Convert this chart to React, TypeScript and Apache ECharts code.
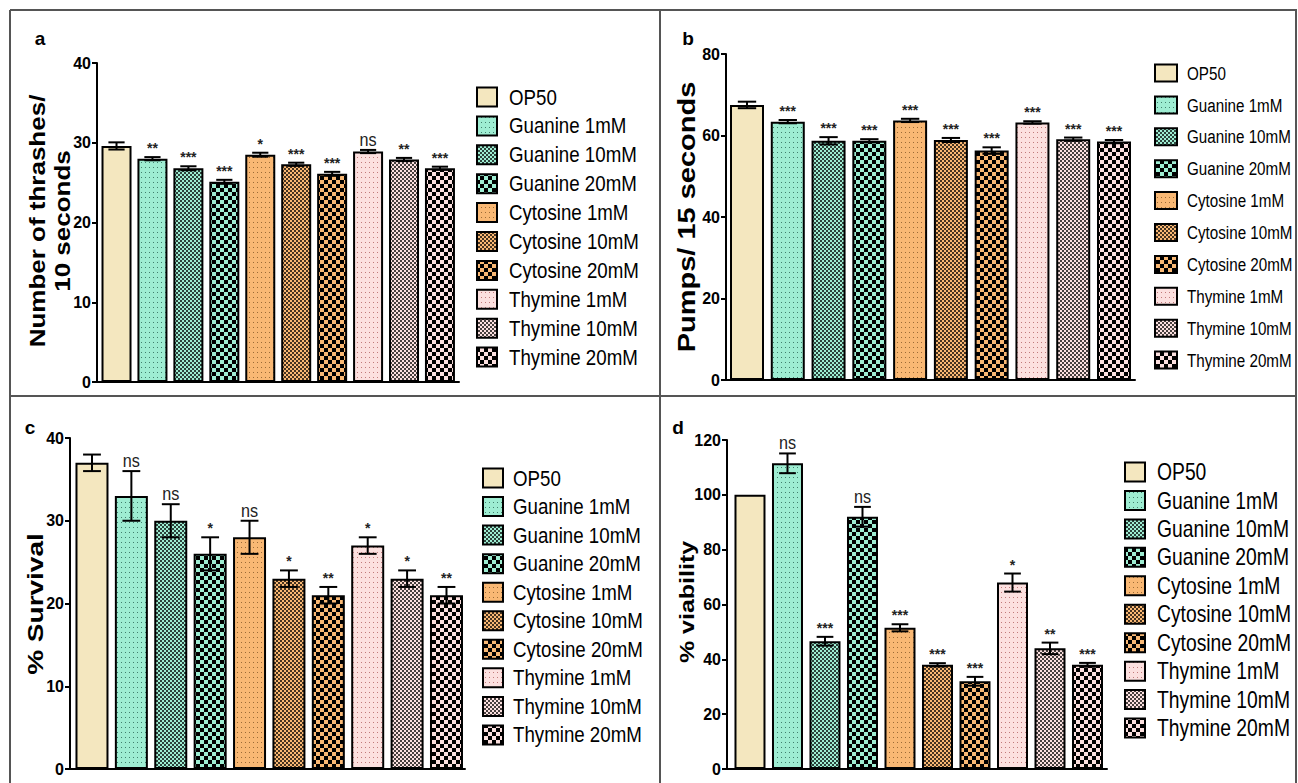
import React, { useEffect, useRef } from 'react';
import * as echarts from 'echarts';

// ---------- data ----------
const categories = [
  'OP50', 'Guanine 1mM', 'Guanine 10mM', 'Guanine 20mM',
  'Cytosine 1mM', 'Cytosine 10mM', 'Cytosine 20mM',
  'Thymine 1mM', 'Thymine 10mM', 'Thymine 20mM',
];

// a: thrashes / 10 s
const thrashesMean = [29.6, 28.0, 26.8, 25.1, 28.5, 27.3, 26.1, 28.9, 27.9, 26.8];
const thrashesErr = [0.45, 0.2, 0.25, 0.25, 0.25, 0.2, 0.25, 0.2, 0.2, 0.2];
const thrashesSig = ['', '**', '***', '***', '*', '***', '***', 'ns', '**', '***'];
const thrashesTicks = [0, 10, 20, 30, 40];

// b: pumps / 15 s
const pumpsMean = [67.5, 63.4, 58.7, 58.7, 63.7, 58.9, 56.3, 63.2, 59.1, 58.5];
const pumpsErr = [0.8, 0.4, 0.9, 0.4, 0.4, 0.5, 0.8, 0.3, 0.4, 0.4];
const pumpsSig = ['', '***', '***', '***', '***', '***', '***', '***', '***', '***'];
const pumpsTicks = [0, 20, 40, 60, 80];

// c: % survival
const survivalMean = [37, 33, 30, 26, 28, 23, 21, 27, 23, 21];
const survivalErr = [1, 3, 2, 2, 2, 1, 1, 1, 1, 1];
const survivalSig = ['', 'ns', 'ns', '*', 'ns', '*', '**', '*', '*', '**'];
const survivalTicks = [0, 10, 20, 30, 40];

// d: % viability
const viabilityMean = [100, 111.5, 46.6, 92, 51.5, 38, 32, 68, 44, 38];
const viabilityErr = [0, 3.6, 1.6, 3.6, 1.3, 0.6, 1.6, 3.3, 2.1, 0.7];
const viabilitySig = ['', 'ns', '***', 'ns', '***', '***', '***', '*', '**', '***'];
const viabilityTicks = [0, 20, 40, 60, 80, 100, 120];

// ---------- styles ----------
const fillBase = ['#F4E7BF', '#9EEDD2', '#9EEDD2', '#9EEDD2', '#F9B874', '#F9B874', '#F9B874', '#FCE0DF', '#FCE0DF', '#FCE0DF'];
const fillDot = ['', '#3f7f6c', '', '', '#9a6a35', '', '', '#c07a7a', '', ''];
const fillKind = ['solid', 'sparse', 'dense', 'checker', 'sparse', 'dense', 'checker', 'sparse', 'dense', 'checker'];

const SANS = '"Liberation Sans", Arial, sans-serif';

function makeFill(kind: string, base: string, dot: string): any {
  if (kind === 'solid') return base;
  const c = document.createElement('canvas');
  let w = 8, h = 8;
  if (kind === 'sparse') { w = 4; h = 5; }
  else if (kind === 'dense') { w = 4; h = 4; }
  c.width = w; c.height = h;
  const ctx = c.getContext('2d')!;
  ctx.fillStyle = base; ctx.fillRect(0, 0, w, h);
  if (kind === 'sparse') {
    ctx.fillStyle = dot; ctx.fillRect(1, 2, 1, 1);
  } else if (kind === 'dense') {
    ctx.fillStyle = 'rgba(0,0,0,0.72)';
    ctx.fillRect(0, 0, 2, 2); ctx.fillRect(2, 2, 2, 2);
  } else {
    ctx.fillStyle = '#000';
    ctx.fillRect(0, 0, 4, 4); ctx.fillRect(4, 4, 4, 4);
  }
  return { image: c.toDataURL(), repeat: 'repeat', imageWidth: w, imageHeight: h };
}

const panels = [
  {
    mean: thrashesMean, err: thrashesErr, sig: thrashesSig, ticks: thrashesTicks,
    grid: { left: 97, top: 63, width: 362, height: 319 }, xMin: -0.543, xMax: 9.53, barWidth: 30,
    title: 'Number of thrashes/\n10 seconds', titleX: 50, titleY: 221, titleSize: 26,
    letter: 'a', letterX: 40, letterY: 38,
    legend: { boxX: 477, boxW: 20, boxH: 19, textX: 509, y0: 97, dy: 28.9, font: 22, sx: 0.85 },
  },
  {
    mean: pumpsMean, err: pumpsErr, sig: pumpsSig, ticks: pumpsTicks,
    grid: { left: 726, top: 54, width: 409, height: 326 }, xMin: -0.515, xMax: 9.515, barWidth: 34,
    title: 'Pumps/ 15 seconds', titleX: 687, titleY: 217, titleSize: 29,
    letter: 'b', letterX: 688, letterY: 38,
    legend: { boxX: 1155, boxW: 22, boxH: 17, textX: 1187, y0: 73, dy: 31.9, font: 19, sx: 0.8 },
  },
  {
    mean: survivalMean, err: survivalErr, sig: survivalSig, ticks: survivalTicks,
    grid: { left: 70, top: 438, width: 395, height: 331 }, xMin: -0.558, xMax: 9.47, barWidth: 33,
    title: '% Survival', titleX: 35, titleY: 604, titleSize: 28,
    letter: 'c', letterX: 30, letterY: 427,
    legend: { boxX: 483, boxW: 20, boxH: 19, textX: 513, y0: 478, dy: 28.55, font: 22, sx: 0.85 },
  },
  {
    mean: viabilityMean, err: viabilityErr, sig: viabilitySig, ticks: viabilityTicks,
    grid: { left: 727, top: 440, width: 380, height: 329 }, xMin: -0.613, xMax: 9.52, barWidth: 31,
    title: '% viability', titleX: 687, titleY: 602, titleSize: 25,
    letter: 'd', letterX: 678, letterY: 427,
    legend: { boxX: 1125, boxW: 20, boxH: 19, textX: 1157, y0: 472, dy: 28.45, font: 23, sx: 0.84 },
  },
];

export default function App() {
  const ref = useRef<HTMLDivElement>(null);

  useEffect(() => {
    if (!ref.current) return;
    const chart = echarts.init(ref.current, null, { renderer: 'svg' });
    const fills = categories.map((_, i) => makeFill(fillKind[i], fillBase[i], fillDot[i]));

    const grids: any[] = [];
    const xAxes: any[] = [];
    const yAxes: any[] = [];
    const series: any[] = [];
    const graphics: any[] = [];

    panels.forEach((p, k) => {
      grids.push({ ...p.grid, containLabel: false });
      xAxes.push({
        type: 'value', gridIndex: k, min: p.xMin, max: p.xMax,
        axisLine: { show: true, onZero: false, lineStyle: { color: '#000', width: 2 } },
        axisTick: { show: false }, axisLabel: { show: false }, splitLine: { show: false },
      });
      const interval = p.ticks[1] - p.ticks[0];
      yAxes.push({
        type: 'value', gridIndex: k, min: p.ticks[0], max: p.ticks[p.ticks.length - 1], interval,
        axisLine: { show: true, onZero: false, lineStyle: { color: '#000', width: 2 } },
        axisTick: { show: true, length: 5, lineStyle: { color: '#000', width: 2 } },
        axisLabel: { color: '#000', fontSize: 16, fontWeight: 'bold', fontFamily: SANS, margin: 6 },
        splitLine: { show: false },
      });
      series.push({
        type: 'bar', xAxisIndex: k, yAxisIndex: k, barWidth: p.barWidth,
        data: p.mean.map((v, i) => ({ value: [i, v], itemStyle: { color: fills[i] } })),
        itemStyle: { borderColor: '#000', borderWidth: 2 },
        emphasis: { disabled: true },
        z: 2,
      });
      series.push({
        type: 'custom', xAxisIndex: k, yAxisIndex: k, z: 3, clip: false,
        encode: { x: 0, y: [1, 2] },
        data: p.mean.map((v, i) => [i, v - p.err[i], v + p.err[i]]),
        renderItem: (params: any, api: any) => {
          const i = api.value(0), lo = api.value(1), hi = api.value(2);
          const top = api.coord([i, hi]);
          const bot = api.coord([i, lo]);
          const half = p.barWidth * 0.27;
          const ls = { stroke: '#000', lineWidth: 2 };
          const children: any[] = [];
          if (hi > lo) {
            children.push({ type: 'line', shape: { x1: top[0], y1: top[1], x2: bot[0], y2: bot[1] }, style: ls });
            children.push({ type: 'line', shape: { x1: top[0] - half, y1: top[1], x2: top[0] + half, y2: top[1] }, style: ls });
            children.push({ type: 'line', shape: { x1: bot[0] - half, y1: bot[1], x2: bot[0] + half, y2: bot[1] }, style: ls });
          }
          const s = p.sig[params.dataIndex];
          if (s) {
            const isNs = s === 'ns';
            children.push({
              type: 'text', x: top[0], y: top[1] - (isNs ? 1 : 2),
              scaleX: isNs ? 0.85 : 1,
              style: {
                text: s, align: 'center', verticalAlign: 'bottom',
                textAlign: 'center', textVerticalAlign: 'bottom',
                font: isNs ? `19px ${SANS}` : `bold 14px ${SANS}`, fill: '#222',
              },
            });
          }
          return { type: 'group', children };
        },
      });

      // axis title
      graphics.push({
        type: 'text', x: p.titleX, y: p.titleY, rotation: Math.PI / 2, scaleY: 0.82,
        style: {
          text: p.title, align: 'center', verticalAlign: 'middle',
          textAlign: 'center', textVerticalAlign: 'middle',
          font: `bold ${p.titleSize}px ${SANS}`, fill: '#000', lineHeight: 30,
        },
      });
      // panel letter
      graphics.push({
        type: 'text', x: p.letterX, y: p.letterY,
        style: {
          text: p.letter, align: 'center', verticalAlign: 'middle',
          textAlign: 'center', textVerticalAlign: 'middle',
          font: `bold 19px ${SANS}`, fill: '#000',
        },
      });
      // legend
      const L = p.legend;
      categories.forEach((name, i) => {
        const yc = L.y0 + i * L.dy;
        graphics.push({
          type: 'rect',
          shape: { x: L.boxX, y: yc - L.boxH / 2, width: L.boxW, height: L.boxH },
          style: { fill: fills[i], stroke: '#000', lineWidth: 2 },
        });
        graphics.push({
          type: 'text', x: L.textX, y: yc, scaleX: L.sx,
          style: {
            text: name, align: 'left', verticalAlign: 'middle',
            textAlign: 'left', textVerticalAlign: 'middle',
            font: `${L.font}px ${SANS}`, fill: '#000',
          },
        });
      });
    });

    // frame
    const frame = { stroke: '#555', lineWidth: 2 };
    [
      [10, 10, 1297, 10],
      [10, 10, 10, 783],
      [660, 10, 660, 783],
      [10, 396, 1297, 396],
      [1296, 10, 1296, 783],
    ].forEach(([x1, y1, x2, y2]) => {
      graphics.push({ type: 'line', shape: { x1, y1, x2, y2 }, style: frame, z: 10 });
    });

    chart.setOption({
      animation: false,
      backgroundColor: '#fff',
      grid: grids,
      xAxis: xAxes,
      yAxis: yAxes,
      series,
      graphic: { elements: graphics },
    });

    return () => chart.dispose();
  }, []);

  return (
    <div
      ref={ref}
      style={{ position: 'absolute', left: 0, top: 0, width: 1298, height: 783 }}
    />
  );
}
